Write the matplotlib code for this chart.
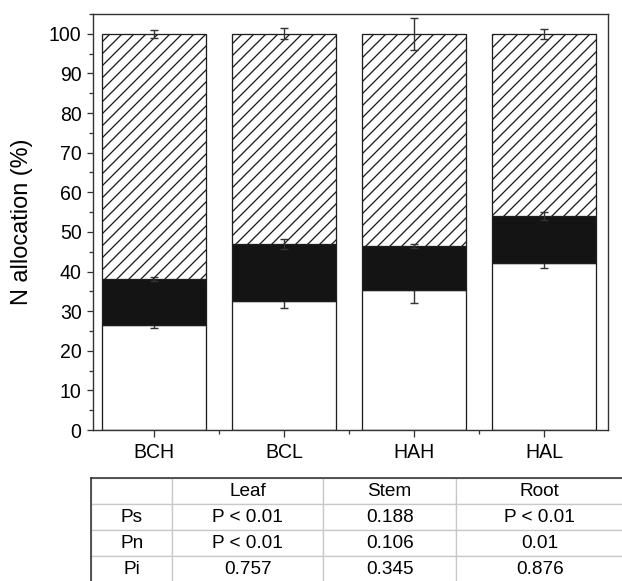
import matplotlib
matplotlib.use('Agg')
import matplotlib.pyplot as plt
from matplotlib.ticker import MultipleLocator, FixedLocator
from matplotlib.lines import Line2D

plt.rcParams['font.family'] = ['Liberation Sans', 'DejaVu Sans']
plt.rcParams['hatch.linewidth'] = 1.3

# N allocation (%) per organ, stacked root / stem / leaf
groups = ['BCH', 'BCL', 'HAH', 'HAL']
root = [26.5, 32.5, 35.4, 42.1]
stem = [11.6, 14.5, 11.1, 11.9]
leaf = [61.9, 53.0, 53.5, 46.0]
root_err = [0.8, 1.8, 3.35, 1.1]
stem_err = [0.45, 1.3, 0.5, 1.0]
leaf_err = [1.0, 1.4, 4.0, 1.2]

# significance table
tab_cols = ['Leaf', 'Stem', 'Root']
tab_rows = ['Ps', 'Pn', 'Pi']
tab_vals = [['P < 0.01', '0.188', 'P < 0.01'],
            ['P < 0.01', '0.106', '0.01'],
            ['0.757', '0.345', '0.876']]

W, H = 622, 581
fig = plt.figure(figsize=(W / 72, H / 72), dpi=72)
ax = fig.add_axes([93 / W, 1 - 430 / H, 515 / W, 416 / H])

x = list(range(len(groups)))
stem_top = [r + s for r, s in zip(root, stem)]
total = [r + s + l for r, s, l in zip(root, stem, leaf)]
edge = '#1e1e1e'

ax.bar(x, root, 0.8, color='white', edgecolor=edge, linewidth=1.3, zorder=1)
ax.errorbar(x, root, yerr=root_err, fmt='none', ecolor='#333333',
            elinewidth=1.4, capsize=4, capthick=1.4, zorder=1.5)
ax.bar(x, stem, 0.8, bottom=root, color='#141414', edgecolor=edge,
       linewidth=1.3, zorder=2)
ax.bar(x, leaf, 0.8, bottom=stem_top, color='white', edgecolor=edge,
       hatch='//', linewidth=1.3, zorder=2)
ax.errorbar(x, stem_top, yerr=stem_err, fmt='none', ecolor='#333333',
            elinewidth=1.4, capsize=4, capthick=1.4, zorder=3)
ax.errorbar(x, total, yerr=leaf_err, fmt='none', ecolor='#333333',
            elinewidth=1.4, capsize=4, capthick=1.4, zorder=3)

ax.set_xlim(-0.47, 3.49)
ax.set_ylim(0, 105)
ax.set_xticks(x)
ax.set_xticklabels(groups)
ax.xaxis.set_minor_locator(FixedLocator([0.5, 1.5, 2.5]))
ax.yaxis.set_major_locator(MultipleLocator(10))
ax.yaxis.set_minor_locator(MultipleLocator(5))
ax.set_ylim(0, 105)
ax.tick_params(which='both', direction='out', width=1.3, color='#333333',
               labelsize=19.5)
ax.tick_params(which='major', length=6.5, pad=5)
ax.tick_params(which='minor', length=4)
ax.tick_params(axis='x', which='major', pad=7)
for sp in ax.spines.values():
    sp.set_linewidth(1.4)
    sp.set_color('#333333')

ax.set_ylabel('N allocation (%)', fontsize=23.5)
ax.yaxis.set_label_coords(-0.1165, 0.5)

# table under the plot
tax = fig.add_axes([91 / W, 1 - 582 / H, 532 / W, 104 / H])
tax.axis('off')
cell_text = [[''] + tab_cols] + [[r] + v for r, v in zip(tab_rows, tab_vals)]
tb = tax.table(cellText=cell_text, cellLoc='center', bbox=[0, 0, 1, 1],
               colWidths=[0.153, 0.283, 0.251, 0.313])
tb.auto_set_font_size(False)
tb.set_fontsize(19)
for cell in tb.get_celld().values():
    cell.set_edgecolor('#c8c8c8')
    cell.set_linewidth(1.3)
tax.add_line(Line2D([0, 1], [1, 1], color='#333333', lw=1.6,
                    transform=tax.transAxes, clip_on=False))
tax.add_line(Line2D([0, 0], [0, 1], color='#333333', lw=1.6,
                    transform=tax.transAxes, clip_on=False))

fig.savefig('out.png', dpi=72)
